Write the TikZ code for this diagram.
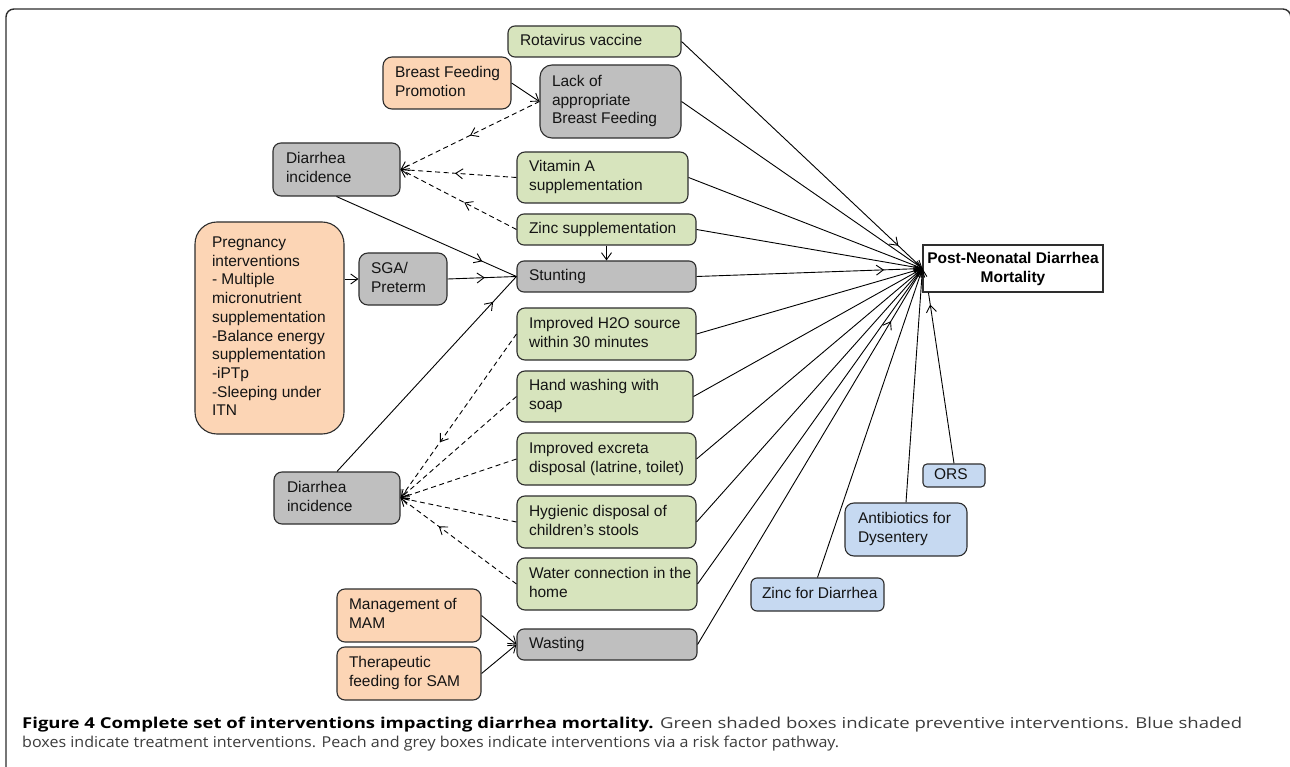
\documentclass[tikz,border=0pt]{standalone}
\usepackage{fontspec}
\setmainfont{Liberation Sans}
\newfontfamily\capfont{Open Sans}
\usetikzlibrary{arrows.meta,decorations.markings}
\definecolor{bxgreen}{HTML}{D7E4BD}
\definecolor{bxpeach}{HTML}{FCD5B5}
\definecolor{bxgrey}{HTML}{BFBFBF}
\definecolor{bxblue}{HTML}{C6D9F1}
\definecolor{edgec}{HTML}{2E2E2E}
\definecolor{captxt}{HTML}{3C3C3C}
\newcommand\bt[2]{\makebox[#1][l]{\begin{tabular}{@{}l@{}}#2\end{tabular}}}
\begin{document}
\begin{tikzpicture}[x=1pt,y=-1pt,
  >={Straight Barb[length=7pt,width=10pt,line width=0.9pt]},
  box/.style={draw=edgec, line width=1.1pt, rounded corners=7pt, inner sep=0pt,
    font=\fontsize{15.5}{18.7}\selectfont, text=black!92},
  sz/.style 2 args={minimum width=#1, minimum height=#2},
  gbox/.style={box, fill=bxgreen},
  obox/.style={box, fill=bxpeach},
  kbox/.style={box, fill=bxgrey},
  bbox/.style={box, fill=bxblue},
  mbox/.style={draw=edgec, line width=1.1pt, fill=white, inner sep=0pt, align=center,
    font=\bfseries\fontsize{15.5}{19}\selectfont},
  con/.style={line width=0.9pt, black},
  dsh/.style={con, dash pattern=on 5pt off 3.5pt},
  mid/.style={postaction={decorate}, decoration={markings, mark=at position #1 with {\arrow{>}}}},
  captext/.style={anchor=base west, inner sep=0pt, font=\capfont\fontsize{15}{19}\selectfont}
]
\useasboundingbox (0,0) rectangle (1290,767);
\fill[white] (0,0) rectangle (1290,767);
% outer frame
\draw[edgec, line width=1.4pt, rounded corners=8pt] (6,775) -- (6,9) -- (1290.8,9) -- (1290.8,775);

% boxes
\node[gbox, sz={173}{31}] (rota) at (594.5,41.5) {\bt{149pt}{Rotavirus vaccine}};
\node[obox, sz={128}{52}, rounded corners=9pt] (bfp) at (447,83) {\bt{104pt}{Breast Feeding\\Promotion}};
\node[kbox, sz={141}{73}, rounded corners=12pt] (lack) at (610.5,101.5) {\bt{117pt}{Lack of\\appropriate\\Breast Feeding}};
\node[kbox, sz={127}{53}, rounded corners=8pt] (dtop) at (336.5,169.5) {\bt{101pt}{Diarrhea\\incidence}};
\node[gbox, sz={171}{51}, rounded corners=8pt] (vita) at (602.5,177.5) {\bt{147pt}{Vitamin A\\supplementation}};
\node[gbox, sz={179}{31}] (zinc) at (606.5,229.5) {\bt{155pt}{Zinc supplementation}};
\node[kbox, sz={179}{31}] (stunt) at (606.5,276.5) {\bt{155pt}{Stunting}};
\node[kbox, sz={88}{52}, rounded corners=9pt] (sga) at (403,279) {\bt{64pt}{SGA/\\Preterm}};
\node[obox, sz={149}{212}, rounded corners=22pt] (preg) at (269.5,328) {\bt{115pt}{Pregnancy\\interventions\\- Multiple\\micronutrient\\supplementation\\-Balance energy\\supplementation\\-iPTp\\-Sleeping under\\ITN}};
\node[gbox, sz={179}{52}, rounded corners=8pt] (h2o) at (606.5,334) {\bt{155pt}{Improved H2O source\\within 30 minutes}};
\node[gbox, sz={176}{51}, rounded corners=8pt] (hand) at (605,396.5) {\bt{152pt}{Hand washing with\\soap}};
\node[gbox, sz={179}{52}, rounded corners=8pt] (excr) at (606.5,459) {\bt{155pt}{Improved excreta\\disposal (latrine, toilet)}};
\node[kbox, sz={126}{52}, rounded corners=8pt] (dbot) at (337,498) {\bt{100pt}{Diarrhea\\incidence}};
\node[gbox, sz={179}{52}, rounded corners=8pt] (hyg) at (606.5,522) {\bt{155pt}{Hygienic disposal of\\children’s stools}};
\node[gbox, sz={180}{52}, rounded corners=8pt] (water) at (607,584) {\bt{156pt}{Water connection in the\\home}};
\node[obox, sz={144}{53}, rounded corners=8pt] (mam) at (409,615.5) {\bt{120pt}{Management of\\MAM}};
\node[obox, sz={144}{53}, rounded corners=8pt] (ther) at (409,673.5) {\bt{120pt}{Therapeutic\\feeding for SAM}};
\node[kbox, sz={180}{31}] (wast) at (607,644.5) {\bt{156pt}{Wasting}};
\node[mbox, sz={180}{47}] (mort) at (1013,268.5) {Post-Neonatal Diarrhea\\Mortality};
\node[bbox, sz={62}{23}, rounded corners=4pt] (ors) at (954,475.5) {\bt{40pt}{ORS}};
\node[bbox, sz={122}{53}, rounded corners=9pt] (anti) at (906,529.5) {\bt{96pt}{Antibiotics for\\Dysentery}};
\node[bbox, sz={133}{33}, rounded corners=6pt] (zdia) at (817.5,594.5) {\bt{111pt}{Zinc for Diarrhea}};

% risk-factor connectors
\draw[con,->] (bfp.east) -- (lack.west);
\draw[dsh,->,mid=0.5] (lack.west) -- (dtop.east);
\draw[dsh,->,mid=0.53] (vita.west) -- (dtop.east);
\draw[dsh,->,mid=0.45] (zinc.west) -- (dtop.east);
\draw[con,mid=0.81] (dtop.south) -- (stunt.west);
\draw[con,->] (preg.east |- sga.west) -- (sga.west);
\draw[con,mid=0.54] (sga.east) -- (stunt.west);
\draw[con,->] (zinc.south) -- (stunt.north);
\draw[con,mid=0.87] (dbot.north) -- (stunt.west);
\draw[dsh,->,mid=0.66] (h2o.west) -- (dbot.east);
\draw[dsh,->] (hand.west) -- (dbot.east);
\draw[dsh,->] (excr.west) -- (dbot.east);
\draw[dsh,->] (hyg.west) -- (dbot.east);
\draw[dsh,->,mid=0.67] (water.west) -- (dbot.east);
\draw[con,->] (mam.east) -- (wast.west);
\draw[con,->] (ther.east) -- (wast.west);

% connectors to mortality
\draw[con,mid=0.9] (rota.east) -- (mort.west);
\draw[con,->] (lack.east) -- (mort.west);
\draw[con,->] (vita.east) -- (mort.west);
\draw[con,->] (zinc.east) -- (mort.west);
\draw[con,mid=0.83] (stunt.east) -- (mort.west);
\draw[con,->] (h2o.east) -- (mort.west);
\draw[con,->] (hand.east) -- (mort.west);
\draw[con,->] (excr.east) -- (mort.west);
\draw[con,->] (hyg.east) -- (mort.west);
\draw[con,->] (water.east) -- (mort.west);
\draw[con,mid=0.86] (wast.east) -- (mort.west);
\draw[con,->] (zdia.north) -- (mort.west);
\draw[con,->] (anti.north) -- (mort.west);
\draw[con,mid=0.93] (ors.north) -- ([xshift=6pt]mort.south west);

% caption
\node[captext] (cap1) at (22,728) {\resizebox{1220pt}{\height}{{\bfseries Figure 4 Complete set of interventions impacting diarrhea mortality.} {\color{captxt}Green shaded boxes indicate preventive interventions. Blue shaded}}};
\node[captext] (cap2) at (22,747) {\resizebox{817pt}{\height}{\color{captxt}boxes indicate treatment interventions. Peach and grey boxes indicate interventions via a risk factor pathway.}};
\end{tikzpicture}
\end{document}
